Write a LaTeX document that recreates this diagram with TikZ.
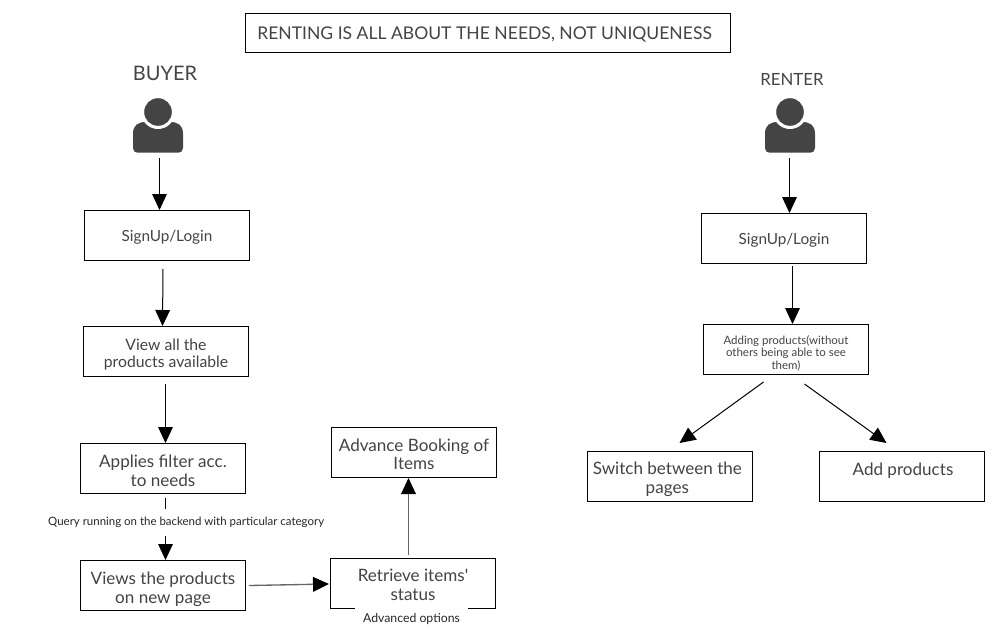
\documentclass[tikz,border=0pt]{standalone}
\usepackage{fontspec}
\setmainfont{Lato}[Ligatures=TeXOff]
\usetikzlibrary{arrows.meta}
\definecolor{txt}{HTML}{444444}
\definecolor{ico}{HTML}{444444}
\newcommand{\tb}[2]{\raisebox{#1}[0pt][0pt]{\parbox{122pt}{\centering #2}}}
\tikzset{
  x=0.75pt,y=-0.75pt,
  box/.style={draw=black,line width=0.75pt,fill=white,minimum width=123.75pt,minimum height=37.5pt,inner sep=0pt,text=txt,font=\fontsize{12.8}{14}\selectfont},
  free/.style={inner sep=0pt,text=txt},
  small/.style={inner sep=0pt,text=black!85,fill=white,font=\fontsize{8.6}{10}\selectfont},
  arr/.style={line width=0.75pt,-{Triangle[length=12pt,width=11pt]}},
  garr/.style={line width=1pt,draw=black!60,-{Triangle[length=12pt,width=11pt,color=black]}},
  pics/person/.style={code={
    \fill[ico] (-25,22) .. controls (-25,13) and (-20,10) .. (-12,10) -- (12,10) .. controls (20,10) and (25,13) .. (25,22) -- (25,36) .. controls (25,39) and (23,40.5) .. (21,40.5) -- (-21,40.5) .. controls (-23,40.5) and (-25,39) .. (-25,36) -- cycle;
    \fill[white] (0,0) circle[radius=17];
    \fill[ico] (0,0) circle[radius=13.8];
  }}
}
\begin{document}
\begin{tikzpicture}
\useasboundingbox (0,0) rectangle (1000,636);
\node[box,minimum width=363.75pt,minimum height=29.25pt,font=\fontsize{13.15}{16}\selectfont] (title) at (488,33) {\hspace*{-5.2pt}\raisebox{-4.5pt}[0pt][0pt]{RENTING IS ALL ABOUT THE NEEDS, NOT UNIQUENESS}};
\node[free,font=\fontsize{15}{18}\selectfont] (buyer) at (165,73) {BUYER};
\node[free,font=\fontsize{12.6}{15}\selectfont] (renter) at (792,79) {RENTER};
\pic at (158,112) {person};
\pic at (790,112) {person};
\coordinate (iconb) at (159.5,158);
\coordinate (iconr) at (789.5,158);
\node[box,font=\fontsize{11.5}{13}\selectfont] (s1) at (167,235.5) {\tb{-4pt}{SignUp/Login}};
\node[box,font=\fontsize{11.8}{12.4}\selectfont] (v1) at (166,351.5) {\tb{-5.1pt}{View all the\\products available}};
\node[box] (a1) at (163,468.5) {\tb{-4.5pt}{Applies filter acc.\\to needs}};
\node[box] (p1) at (163,585.5) {\tb{-6pt}{Views the products\\on new page}};
\node[box] (r1) at (413,583.5) {\tb{-4.1pt}{Retrieve items'\\status}};
\node[box] (b1) at (414,452.5) {\tb{-4.4pt}{Advance Booking of\\Items}};
\node[box,font=\fontsize{11.5}{13}\selectfont] (s2) at (784,238.5) {\tb{-4pt}{SignUp/Login}};
\node[box,font=\fontsize{8.6}{9.2}\selectfont] (ap) at (786,349.5) {\tb{-5pt}{Adding products(without\\others being able to see\\them)}};
\node[box] (sw) at (670,476.5) {\hspace*{-4pt}\tb{-5.25pt}{Switch between the\\pages}};
\node[box] (ad) at (902,476.5) {\hspace*{1.5pt}\tb{1.1pt}{Add products}};
\node[small,font=\fontsize{9.2}{11}\selectfont,minimum width=84.75pt,minimum height=20pt] (adv) at (411.5,619) {Advanced options};
\draw[arr] (iconb) -- (iconb |- s1.north);
\draw[arr] ([shift={(-4,8)}]s1.south) -- ([shift={(-3.5,0)}]v1.north);
\draw[arr] ([shift={(-0.5,7)}]v1.south) -- ([shift={(2.5,0)}]a1.north);
\draw[arr] ([shift={(2.5,4)}]a1.south) -- node[small,pos=0.39,xshift=15.5pt,minimum height=20pt] {Query running on the backend with particular category} ([shift={(2.5,0)}]p1.north);
\draw[garr] ([shift={(3,0)}]p1.east) -- ([shift={(-1,0.5)}]r1.west);
\draw[garr] ([shift={(-4.5,-3)}]r1.north) -- ([shift={(-5.5,0)}]b1.south);
\draw[arr] (iconr) -- (iconr |- s2.north);
\draw[arr] ([shift={(8.5,2)}]s2.south) -- ([shift={(6.5,0)}]ap.north);
\draw[arr] ([shift={(-22.5,7)}]ap.south) -- ([shift={(9.5,-8)}]sw.north);
\draw[arr] ([shift={(18.5,9)}]ap.south) -- ([shift={(-15.5,-8)}]ad.north);
\end{tikzpicture}
\end{document}
